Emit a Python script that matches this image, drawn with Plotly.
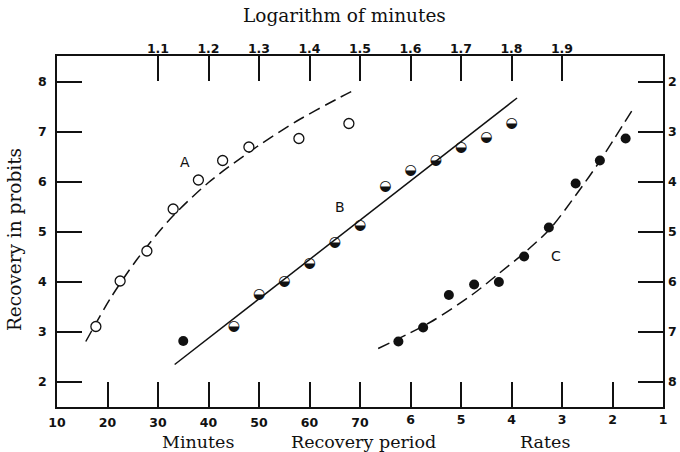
import plotly.graph_objects as go

# ---- data ----
# Series A: probits vs minutes (open circles)
a_minutes = [17.7, 22.5, 27.8, 33.0, 38.0, 42.8, 48.0, 57.9, 67.8]
a_probit = [3.11, 4.02, 4.62, 5.46, 6.04, 6.43, 6.70, 6.87, 7.17]
a_curve_minutes = [15.7, 20.5, 25.9, 32.4, 40.0, 49.5, 57.5, 66.0, 69.3]
a_curve_probit = [2.81, 3.66, 4.46, 5.26, 5.99, 6.70, 7.22, 7.69, 7.86]

# Series B: probits vs log minutes (half-filled circles)
b_log = [1.25, 1.30, 1.35, 1.40, 1.45, 1.50, 1.55, 1.60, 1.65, 1.70, 1.75, 1.80]
b_probit = [3.11, 3.75, 4.02, 4.37, 4.79, 5.14, 5.92, 6.24, 6.44, 6.69, 6.89, 7.17]
b_extra_log = [1.15]
b_extra_probit = [2.82]
b_line_log = [1.133, 1.811]
b_line_probit = [2.35, 7.68]

# Series C: probits vs rates (filled circles)
c_rate = [6.24, 5.75, 5.24, 4.74, 4.25, 3.75, 3.26, 2.73, 2.25, 1.74]
c_probit = [2.81, 3.09, 3.74, 3.95, 4.00, 4.51, 5.09, 5.97, 6.43, 6.87]
c_curve_rate = [6.64, 5.6, 4.76, 4.25, 3.75, 3.24, 2.71, 2.25, 1.62]
c_curve_probit = [2.67, 3.20, 3.76, 4.17, 4.58, 5.06, 5.76, 6.42, 7.42]

# tick labels
minute_ticks = [10, 20, 30, 40, 50, 60, 70]
rate_ticks = [6, 5, 4, 3, 2, 1]
log_ticks = [1.1, 1.2, 1.3, 1.4, 1.5, 1.6, 1.7, 1.8, 1.9]
probit_ticks = [2, 3, 4, 5, 6, 7, 8]
right_ticks = [2, 3, 4, 5, 6, 7, 8]

SERIF = "DejaVu Serif"
SANS = "DejaVu Sans"
BLACK = "#111111"
DASH = "12px,6px"

fig = go.Figure()

# A
fig.add_trace(go.Scatter(x=a_curve_minutes, y=a_curve_probit, mode="lines",
                         line=dict(color=BLACK, width=1.5, dash=DASH, shape="spline", smoothing=0.8),
                         xaxis="x", yaxis="y", showlegend=False, hoverinfo="skip"))
fig.add_trace(go.Scatter(x=a_minutes, y=a_probit, mode="markers",
                         marker=dict(symbol="circle", size=10, color="white",
                                     line=dict(color=BLACK, width=1.3)),
                         xaxis="x", yaxis="y", showlegend=False))

# B
fig.add_trace(go.Scatter(x=b_line_log, y=b_line_probit, mode="lines",
                         line=dict(color=BLACK, width=1.5),
                         xaxis="x2", yaxis="y", showlegend=False, hoverinfo="skip"))
fig.add_trace(go.Scatter(x=b_log, y=b_probit, mode="text",
                         text=["\u25D2"] * len(b_log), textposition="middle center",
                         textfont=dict(family=SANS, size=14, color=BLACK),
                         xaxis="x2", yaxis="y", showlegend=False))
fig.add_trace(go.Scatter(x=b_extra_log, y=b_extra_probit, mode="markers",
                         marker=dict(symbol="circle", size=10, color=BLACK),
                         xaxis="x2", yaxis="y", showlegend=False))

# C
fig.add_trace(go.Scatter(x=c_curve_rate, y=c_curve_probit, mode="lines",
                         line=dict(color=BLACK, width=1.5, dash=DASH, shape="spline", smoothing=0.8),
                         xaxis="x3", yaxis="y", showlegend=False, hoverinfo="skip"))
fig.add_trace(go.Scatter(x=c_rate, y=c_probit, mode="markers",
                         marker=dict(symbol="circle", size=10, color=BLACK),
                         xaxis="x3", yaxis="y", showlegend=False))

tickfont = dict(family=SANS, size=12.5, color=BLACK, weight="bold")
common_ticks = dict(ticks="inside", ticklen=25, tickwidth=1.5, tickcolor=BLACK,
                    showgrid=False, zeroline=False, tickfont=tickfont,
                    automargin=False)

fig.update_layout(
    width=680, height=452,
    margin=dict(l=57, r=17, t=56, b=45, autoexpand=False),
    paper_bgcolor="white", plot_bgcolor="white",
    showlegend=False,
    xaxis=dict(range=[10, 130], tickmode="array", tickvals=minute_ticks,
               ticktext=[str(v) for v in minute_ticks], side="bottom",
               showline=True, linecolor=BLACK, linewidth=1.5, mirror=True,
               ticklabelstandoff=3, **common_ticks),
    xaxis2=dict(range=[0.9, 2.1], tickmode="array", tickvals=log_ticks,
                ticktext=[f"{v:.1f}" for v in log_ticks], side="top",
                overlaying="x", anchor="y", showline=False, ticklabelstandoff=0,
                **common_ticks),
    xaxis3=dict(range=[13, 1], tickmode="array", tickvals=rate_ticks,
                ticktext=[str(v) for v in rate_ticks], side="bottom",
                overlaying="x", anchor="y", showline=False, ticklabelstandoff=3,
                **common_ticks),
    yaxis=dict(range=[1.5, 8.52], tickmode="array", tickvals=probit_ticks,
               ticktext=[str(v) for v in probit_ticks],
               showline=True, linecolor=BLACK, linewidth=1.5, mirror=True,
               ticklabelstandoff=6, **common_ticks),
    yaxis2=dict(range=[8.5, 1.48], tickmode="array", tickvals=right_ticks,
                ticktext=[str(v) for v in right_ticks], side="right",
                overlaying="y", anchor="x", showline=False, ticklabelstandoff=4,
                **common_ticks),
)

# dummy trace to activate yaxis2
fig.add_trace(go.Scatter(x=[None], y=[None], xaxis="x", yaxis="y2",
                         showlegend=False, hoverinfo="skip"))

ann_font = dict(family=SERIF, size=18.5, color=BLACK)
fig.add_annotation(text="Logarithm of minutes", xref="paper", yref="paper",
                   x=0.474, y=1.114, xanchor="center", yanchor="middle",
                   showarrow=False, font=ann_font)
fig.add_annotation(text="Recovery in probits", xref="paper", yref="paper",
                   x=-0.069, y=0.476, xanchor="center", yanchor="middle",
                   textangle=-90, showarrow=False, font=ann_font)
bottom_font = dict(family=SERIF, size=17.5, color=BLACK)
for label, xp in [("Minutes", 0.232), ("Recovery period", 0.505), ("Rates", 0.805)]:
    fig.add_annotation(text=label, xref="paper", yref="paper", x=xp, y=-0.099,
                       xanchor="center", yanchor="middle", showarrow=False,
                       font=bottom_font)

lab_font = dict(family=SANS, size=14, color=BLACK)
fig.add_annotation(text="A", xref="x", yref="y", x=35.3, y=6.4, showarrow=False, font=lab_font)
fig.add_annotation(text="B", xref="x2", yref="y", x=1.46, y=5.5, showarrow=False, font=lab_font)
fig.add_annotation(text="C", xref="x3", yref="y", x=3.12, y=4.52, showarrow=False, font=lab_font)

fig.write_html("out.html")
